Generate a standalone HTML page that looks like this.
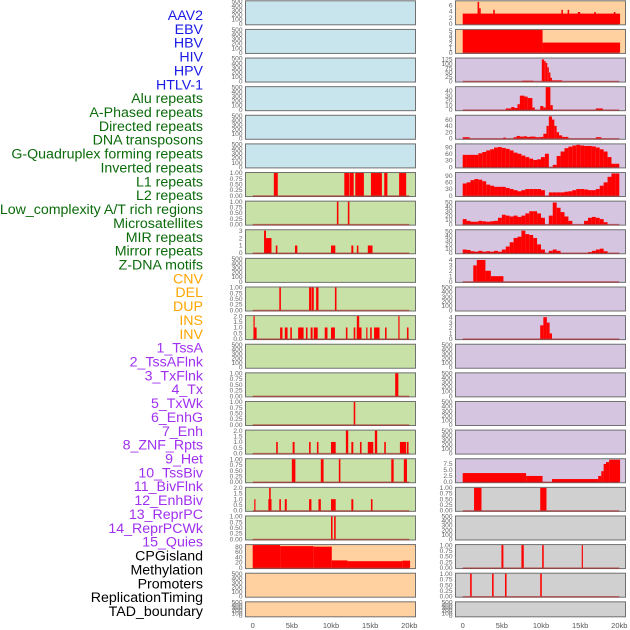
<!DOCTYPE html>
<html><head><meta charset="utf-8">
<style>
html,body{margin:0;padding:0;background:#fff;}
svg{display:block;font-family:"Liberation Sans",sans-serif;}
</style></head>
<body>
<svg id="chart" width="630" height="630" viewBox="0 0 630 630" xmlns="http://www.w3.org/2000/svg"></svg>
<script>
// ---------- Data ----------
const rowLabels = ["AAV2","EBV","HBV","HIV","HPV","HTLV-1","Alu repeats","A-Phased repeats","Directed repeats","DNA transposons","G-Quadruplex forming repeats","Inverted repeats","L1 repeats","L2 repeats","Low_complexity A/T rich regions","Microsatellites","MIR repeats","Mirror repeats","Z-DNA motifs","CNV","DEL","DUP","INS","INV","1_TssA","2_TssAFlnk","3_TxFlnk","4_Tx","5_TxWk","6_EnhG","7_Enh","8_ZNF_Rpts","9_Het","10_TssBiv","11_BivFlnk","12_EnhBiv","13_ReprPC","14_ReprPCWk","15_Quies","CPGisland","Methylation","Promoters","ReplicationTiming","TAD_boundary"];
const labelGroups = [6,13,5,15,5];
const xTickLabels = ["0","5kb","10kb","15kb","20kb"];
const xTickValues = [0,5,10,15,20];

// segments: [startKb, endKb, value]
const rAAV2 = [[0,20.1,3.3],[1.9,2.1,7],[2.1,2.3,5],[3.9,4.1,4.5],[12.6,12.8,4.5],[13.4,13.6,4.5],[14.7,15,3.8],[16.8,17,3.8],[19.3,19.5,3.8]];
const rEBV = [[0,10.2,5.2],[10.2,20.1,2.3]];
const rHBV = [[7.6,9,3],[10.1,10.4,125],[10.4,10.6,115],[10.6,10.8,105],[10.8,11,80],[11,11.2,50],[11.2,11.4,20],[11.4,12.7,5]];
const rHIV = [[5.5,6.2,3],[6.2,6.6,6],[6.6,7,4],[7,7.3,12],[7.3,7.9,30],[7.9,8.3,28],[8.3,8.9,25],[8.9,9.2,5],[9.9,10.3,8],[10.3,10.6,5],[10.6,11.2,48],[11.2,11.5,10],[17,17.9,3]];
const rHPV = [[0,0.9,4],[5.2,5.5,3],[6.5,6.9,4],[6.9,7.3,8],[7.3,7.8,6],[7.8,8.2,7],[8.2,8.6,5],[8.6,9.3,6],[9.3,9.9,4],[9.9,10.3,5],[10.3,10.7,15],[10.7,11,40],[11,11.4,70],[11.4,11.7,60],[11.7,12,40],[12,12.3,20],[12.3,12.7,10],[12.7,13.5,5],[17,17.7,4]];
// bins of 0.5 kb starting at 0
const rGQuadBins = [55,55,55,55,62,68,75,80,88,90,86,82,75,65,60,52,45,38,32,35,45,60,0,10,50,70,85,92,97,100,97,95,95,93,88,80,70,45,15,15];
const rL1Bins = [55,60,70,75,72,65,50,45,40,40,40,35,30,25,20,25,30,30,30,30,25,0,15,15,15,15,18,20,25,30,30,28,25,25,30,45,60,85,100,100];
const rL2Bins = [12,8,6,6,8,7,6,7,8,15,22,20,18,20,17,20,25,30,30,25,15,0,20,50,38,28,18,8,0,0,0,8,15,17,15,12,5,0,0,0];
const rLowCBins = [8,7,4,3,5,3,4,3,5,3,8,15,25,35,38,52,44,42,35,20,8,0,5,8,5,0,0,0,0,0,0,0,2,5,8,10,4,0,0,0];
const rMIR = [[1.35,1.8,3],[1.8,2.9,4],[2.9,3.6,2],[3.6,5.2,1]];
const rINV = [[9.9,10.3,2.5],[10.3,10.75,4],[10.75,11.1,3],[11.1,11.4,1]];
const rTssBiv = [[0,8.1,3.7],[8.1,10.2,2.5],[11.4,17.3,1.2],[17.3,17.7,2.5],[17.7,18,4.5],[18,18.3,7.5],[18.3,18.7,8.3],[18.7,20.1,9.3]];
const rEnhBiv = [[1.45,2.4,1],[9.9,10.7,1]];
const rPromoters = [[4.95,5.2,1],[7.5,7.8,1],[10.15,10.35,1],[15.2,15.35,1]];
const rRepTiming = [[0.95,1.15,1],[3.75,3.95,1],[5.4,5.6,1],[9.9,10.1,1]];

const lL1 = [[2.7,3.2,1],[11.7,12.3,1],[12.35,12.9,1],[13.1,14.2,1],[15.1,16.5,1],[16.8,17.2,1],[18.7,19.6,1]];
const lL2 = [[10.75,10.95,1],[12.15,12.35,1]];
const lLowC = [[1.45,1.7,3],[1.7,2.4,2],[2.95,3.15,1],[5.4,5.7,1],[10,10.55,1],[12.6,12.85,1],[13.3,13.5,1],[14.7,15.3,1]];
const lMirror = [[3.4,3.6,1],[7.2,7.5,1],[7.55,7.8,1],[8.1,8.4,1],[10.5,10.7,1]];
const lZDNA = [[0.1,0.2,2],[0.1,0.5,1],[3.5,3.8,1],[4.1,4.45,1],[4.8,5,1],[5.8,6.5,1],[6.8,7,1],[7.4,7.65,1],[7.8,8.3,1],[9.2,9.55,1],[10,10.5,1],[11.9,12.1,1],[12.9,13.1,1],[13.3,13.6,2],[13.3,13.9,1],[14.5,14.65,1],[15,15.2,1],[15.5,16.2,1],[16.9,17.1,1],[18.6,18.75,2],[19.7,19.9,1]];
const lRow13 = [[18.2,18.6,1]];
const lRow14 = [[12.9,13.1,1]];
const lRow15 = [[3,3.2,1],[5.1,5.35,1],[7.2,7.4,1],[8.2,8.4,1],[10,10.6,1],[11.9,12.2,2],[12.6,12.85,1],[13.7,13.9,1],[14.7,15.4,1],[15.6,15.9,2],[16.8,17,1],[18.8,19.6,1],[19.7,19.9,1]];
const lRow16 = [[5,5.45,1],[8.7,9.05,1],[11,11.2,1],[17.7,18,1],[19.3,19.7,1]];
const lRow17 = [[0.2,0.35,1],[2,2.4,1],[2.1,2.3,2],[3.4,3.6,1],[4.1,4.35,1],[7.2,7.5,1],[8.4,8.7,1],[10,10.6,1],[12.6,12.85,1],[15.1,15.3,1]];
const lRow18 = [[10,10.2,1],[10.4,10.6,1]];
const lCpG = [[0,3.5,86],[3.5,7.8,82],[7.8,10.1,80],[10.1,12.1,28],[12.1,19.1,25],[19.1,20.1,27]];

// ---------- Helpers ----------
const NS = "http://www.w3.org/2000/svg";
const svg = document.getElementById("chart");
function mk(tag, attrs, parent){
  const e = document.createElementNS(NS, tag);
  for (const k in attrs) e.setAttribute(k, attrs[k]);
  (parent||svg).appendChild(e);
  return e;
}
function binsToSegs(bins){ return bins.map((v,i)=>[i*0.5,i*0.5+0.5,v]).filter(s=>s[2]>0); }

const emptyTicks = {ticks:[0,100,200,300,400,500], max:500, fmt:0};
const t01 = {ticks:[0,0.25,0.5,0.75,1], max:1.0, fmt:2};
const t02 = {ticks:[0,0.5,1,1.5,2], max:2.0, fmt:1};

const COL = {blue:"#c8e4ec", green:"#c8e1a6", orange:"#ffd0a0", purple:"#d5c5e1", gray:"#d0d0d0"};
const colL = ["blue","blue","blue","blue","blue","blue","green","green","green","green","green","green","green","green","green","green","green","green","green","orange","orange","orange"];
const colR = ["orange","orange","purple","purple","purple","purple","purple","purple","purple","purple","purple","purple","purple","purple","purple","purple","purple","gray","gray","gray","gray","gray"];

const leftPanels = [null,null,null,null,null,null,
  {segs:lL1, ...t01},{segs:lL2, ...t01},{segs:lLowC, ticks:[0,1,2,3], max:3.05, fmt:0},null,
  {segs:lMirror, ...t01},{segs:lZDNA, ...t02},null,{segs:lRow13, ...t01},{segs:lRow14, ...t01},
  {segs:lRow15, ...t02},{segs:lRow16, ...t01},{segs:lRow17, ...t02},{segs:lRow18, ...t01},
  {segs:lCpG, ticks:[0,20,40,60,80], max:86, fmt:0},null,null];
const rightPanels = [
  {segs:rAAV2, ticks:[0,2,4,6], max:7.2, fmt:0},
  {segs:rEBV, ticks:[0,1,2,3,4,5], max:5.2, fmt:0},
  {segs:rHBV, ticks:[0,25,50,75,100,125], max:130, fmt:0},
  {segs:rHIV, ticks:[0,10,20,30,40], max:48, fmt:0},
  {segs:rHPV, ticks:[0,20,40,60], max:72, fmt:0},
  {segs:binsToSegs(rGQuadBins), ticks:[0,30,60,90], max:102, fmt:0},
  {segs:binsToSegs(rL1Bins), ticks:[0,30,60,90], max:102, fmt:0},
  {segs:binsToSegs(rL2Bins), ticks:[0,10,20,30,40,50], max:52, fmt:0},
  {segs:binsToSegs(rLowCBins), ticks:[0,10,20,30,40,50], max:53, fmt:0},
  {segs:rMIR, ticks:[0,1,2,3,4], max:4.2, fmt:0},
  null,
  {segs:rINV, ticks:[0,1,2,3,4], max:4.2, fmt:0},
  null,null,null,null,
  {segs:rTssBiv, ticks:[0,2.5,5,7.5], max:9.5, fmt:1},
  {segs:rEnhBiv, ...t01},
  null,
  {segs:rPromoters, ...t01},
  {segs:rRepTiming, ...t01},
  null];

// ---------- Layout ----------
const colX = [{x0:245,x1:416,k0:252.7},{x0:455,x1:626,k0:462.7}];
const KB = 7.83;
function rowTop(i){ return i*28.62 + 0.3; }
function rowH(i){ return i===21 ? 16 : 25; }

function drawPanel(col, i, p, color){
  const c = colX[col];
  const top = rowTop(i), h = rowH(i), bot = top + h;
  const g = mk("g", {});
  
  
  const bg = mk("rect", {x:c.x0+0.5, y:top+0.5, width:c.x1-c.x0-1, height:h-1, fill:COL[color], stroke:"#707070", "stroke-width":1}, g);
  
  
  const cfg = p || emptyTicks;
  const y = v => bot - 1.3 - v / cfg.max * (h - 2.3);
  const x = kb => c.k0 + kb * KB;
  cfg.ticks.forEach(t=>{
    const tx = mk("text", {x:c.x0-2.5, y:y(t)+2.2, "font-size":6.6, fill:"#666", "text-anchor":"end"}, g);
    
    
    tx.textContent = t.toFixed(cfg.fmt);
  });
  if (p){
    p.segs.forEach(s=>{
      const r = mk("rect", {x:x(s[0]), y:y(s[2]), width:Math.max(x(s[1])-x(s[0]),1.2), height:y(0)-y(s[2]), fill:"#ff0000"}, g);
      
      
    });
    const bl = mk("line", {x1:x(0), x2:x(20), y1:y(0)+0.3, y2:y(0)+0.3, stroke:"rgba(170,20,20,0.55)", "stroke-width":1.5}, g);
    
    
  }
}
for (let i=0;i<22;i++){
  drawPanel(0, i, leftPanels[i], colL[i]);
  drawPanel(1, i, rightPanels[i], colR[i]);
}

// x axis labels
[0,1].forEach(col=>{
  xTickValues.forEach((v,j)=>{
    const t = mk("text", {x:colX[col].k0 + v*KB, y:628, "font-size":7.5, fill:"#555", "text-anchor":"middle"});
    
    
    t.textContent = xTickLabels[j];
  });
});

// row labels
const groupColors = ["#1a1ae6","#0b6b0b","#ffa500","#a030f0","#000000"];
let gi = 0, cnt = 0;
rowLabels.forEach((lab,i)=>{
  while (cnt >= labelGroups[gi] && gi < labelGroups.length-1){ cnt = 0; gi++; }
  cnt++;
  const t = mk("text", {x:203, y:15 + i*13.86 + 5, "font-size":14.2, fill:groupColors[gi], "text-anchor":"end"});
  
  
  t.textContent = lab;
});
</script>
</body></html>
